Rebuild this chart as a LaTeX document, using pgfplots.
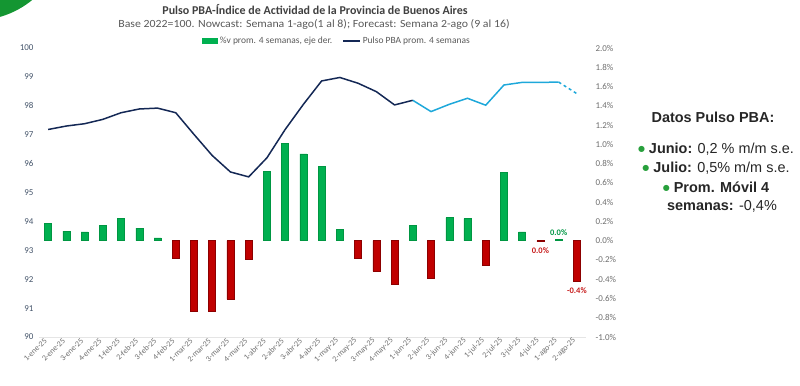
\documentclass[border=0pt]{standalone}
\usepackage{pgfplots}
\pgfplotsset{compat=1.18}
\usepackage{fontspec}
\setmainfont{Carlito}
\newfontfamily\arialf{Liberation Sans}
\newfontfamily\dejavu{DejaVu Sans}
\definecolor{barG}{RGB}{0,176,80}
\definecolor{barGd}{RGB}{0,150,66}
\definecolor{barR}{RGB}{192,0,0}
\definecolor{barRd}{RGB}{140,0,0}
\definecolor{navy}{RGB}{20,40,85}
\definecolor{lblue}{RGB}{30,168,218}
\definecolor{ticklblue}{RGB}{68,84,106}
\definecolor{tickgray}{RGB}{110,110,110}
\definecolor{titlegray}{RGB}{64,64,64}
\definecolor{subgray}{RGB}{89,89,89}
\definecolor{txtdark}{RGB}{38,38,38}
\definecolor{cornergreen}{RGB}{20,150,50}
\definecolor{dotgreen}{RGB}{40,160,60}
\newcommand{\gdot}{\raisebox{1.6bp}{\dejavu\fontsize{8}{8}\selectfont\color{dotgreen}●}}
\begin{document}
\begin{tikzpicture}[x=1bp,y=1bp]
\path[use as bounding box] (0,0) rectangle (800,385);
\begin{scope}
\clip (0,0) rectangle (800,385);
\fill[cornergreen] (-25,455) circle (90.4);
\end{scope}
\node[font=\bfseries\fontsize{12}{14}\selectfont, text=titlegray] at (315,375.5) {Pulso PBA-Índice de Actividad de la Provincia de Buenos Aires};
\node[font=\fontsize{11}{13}\selectfont, text=subgray, xscale=1.08, transform shape] at (314,360.5) {Base 2022=100. Nowcast: Semana 1-ago(1 al 8); Forecast: Semana 2-ago (9 al 16)};
% right axis with bars
\begin{axis}[
  at={(39bp,48bp)}, anchor=south west,
  width=547bp, height=289bp, scale only axis,
  xmin=-0.5, xmax=29.5, ymin=-1, ymax=2,
  axis y line*=right, axis x line*=bottom,
  x axis line style={draw=gray!20, line width=0.8pt, -},
  y axis line style={draw=none},
  xtick={0,...,29},
  xticklabels={1-ene-25,2-ene-25,3-ene-25,4-ene-25,1-feb-25,2-feb-25,3-feb-25,4-feb-25,1-mar-25,2-mar-25,3-mar-25,4-mar-25,1-abr-25,2-abr-25,3-abr-25,4-abr-25,1-may-25,2-may-25,3-may-25,4-may-25,1-jun-25,2-jun-25,3-jun-25,4-jun-25,1-jul-25,2-jul-25,3-jul-25,4-jul-25,1-ago-25,2-ago-25},
  xticklabel style={rotate=45, anchor=east, font=\fontsize{8}{9}\selectfont, text=tickgray},
  xtick style={draw=none}, ytick style={draw=none},
  ytick={-1,-0.8,-0.6,-0.4,-0.2,0,0.2,0.4,0.6,0.8,1,1.2,1.4,1.6,1.8,2},
  yticklabel={\pgfmathprintnumber[fixed,fixed zerofill,precision=1,assume math mode=true]{\tick}\%},
  yticklabel style={font=\fontsize{9}{10}\selectfont, text=tickgray, anchor=west, xshift=6bp},
  clip=false,
]
\addplot[ybar, bar width=7bp, bar shift=0pt, fill=barG, draw=barGd, line width=0.5bp] coordinates {
(0,0.18) (1,0.10) (2,0.09) (3,0.16) (4,0.23) (5,0.13) (6,0.03)
(12,0.72) (13,1.01) (14,0.90) (15,0.77) (16,0.12)
(20,0.16) (22,0.24) (23,0.23) (25,0.71) (26,0.09) (28,0.01)
};
\addplot[ybar, bar width=7bp, bar shift=0pt, fill=barR, draw=barRd, line width=0.5bp] coordinates {
(7,-0.18) (8,-0.73) (9,-0.73) (10,-0.61) (11,-0.19)
(17,-0.18) (18,-0.32) (19,-0.45) (21,-0.39) (24,-0.25) (27,-0.01) (29,-0.42)
};
\addplot[only marks, mark=none, point meta=explicit symbolic, nodes near coords,
  nodes near coords style={font=\bfseries\fontsize{8.5}{9}\selectfont, text=barG!85!black, anchor=south, yshift=1bp}]
  coordinates {(28,0.01)[0.0\%]};
\addplot[only marks, mark=none, point meta=explicit symbolic, nodes near coords,
  nodes near coords style={font=\bfseries\fontsize{8.5}{9}\selectfont, text=barR!90!white, anchor=north, yshift=-3bp}]
  coordinates {(27,-0.01)[0.0\%] (29,-0.42)[-0.4\%]};
\end{axis}
% left axis with line
\begin{axis}[
  at={(39bp,48bp)}, anchor=south west,
  width=547bp, height=289bp, scale only axis,
  xmin=-0.5, xmax=29.5, ymin=90, ymax=100,
  axis y line*=left, axis x line=none,
  y axis line style={draw=none},
  ytick={90,91,...,100}, ytick style={draw=none},
  yticklabel style={font=\fontsize{9}{10}\selectfont, text=ticklblue, /pgf/number format/assume math mode=true, xshift=-2bp},
  legend columns=2,
  legend style={at={(0.545,1.0)}, anchor=south, draw=none, fill=none,
    font=\fontsize{9.5}{10}\selectfont, text=subgray, inner sep=1bp,
    /tikz/every even column/.append style={column sep=8bp}},
  clip=false,
]
\addlegendimage{legend image code/.code={\fill[barG] (0bp,-2.5bp) rectangle (15bp,2.5bp);}}
\addlegendentry{\%v prom. 4 semanas, eje der.}
\addplot[navy, line width=1.5bp, mark=none] coordinates {
(0,97.18) (1,97.30) (2,97.38) (3,97.53) (4,97.76) (5,97.89) (6,97.92) (7,97.76)
(8,97.01) (9,96.28) (10,95.71) (11,95.54) (12,96.20) (13,97.18) (14,98.05) (15,98.86)
(16,98.98) (17,98.78) (18,98.49) (19,98.03) (20,98.19)
};
\addlegendentry{Pulso PBA prom. 4 semanas}
\addplot[lblue, line width=1.5bp, mark=none, forget plot] coordinates {
(20,98.19) (21,97.80) (22,98.05) (23,98.26) (24,98.02) (25,98.72) (26,98.81) (27,98.81) (28,98.82)
};
\addplot[lblue, line width=1.5bp, mark=none, dashed, forget plot] coordinates {
(28,98.82) (29,98.42)
};
\end{axis}
\begin{scope}[font=\arialf\fontsize{14.5}{16}\selectfont, text=txtdark]
\node[font=\arialf\bfseries\fontsize{14.5}{16}\selectfont] at (713,268) {Datos Pulso PBA:};
\node at (716,236) {\gdot\ \textbf{Junio:} 0,2 \% m/m s.e.};
\node at (716,217) {\gdot\ \textbf{Julio:} 0,5\% m/m s.e.};
\node at (716,198) {\gdot\ \textbf{Prom. Móvil 4}};
\node at (722,179) {\textbf{semanas:} -0,4\%};
\end{scope}
\end{tikzpicture}
\end{document}
